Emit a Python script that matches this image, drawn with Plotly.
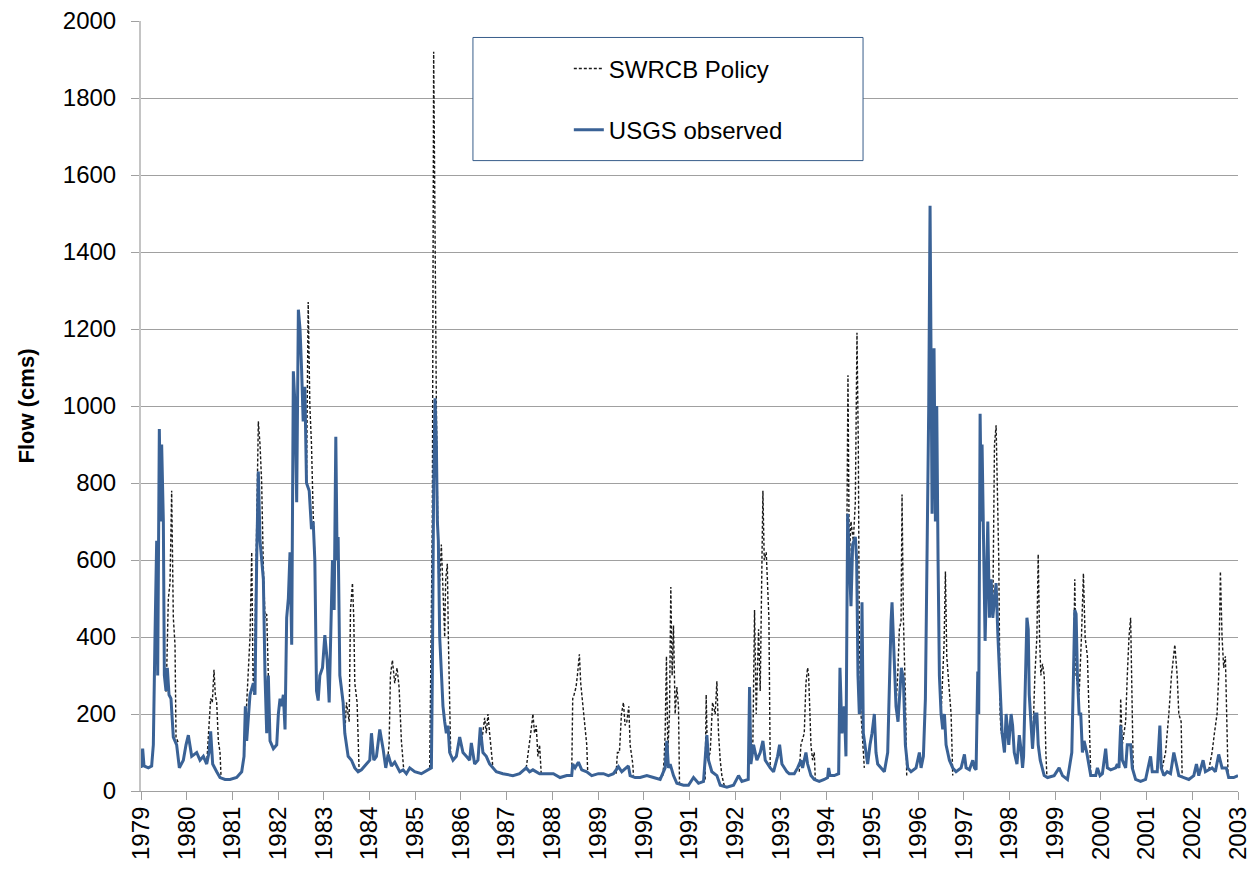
import plotly.graph_objects as go

# USGS observed flow (cms) at decimal-year positions
usgs_year = [
    1979.00, 1979.036, 1979.066, 1979.16, 1979.233, 1979.27, 1979.306, 1979.343, 1979.365, 1979.401,
    1979.43, 1979.452, 1979.489, 1979.511, 1979.547, 1979.576, 1979.613, 1979.656, 1979.707, 1979.78,
    1979.839, 1979.926, 1979.985, 1980.036, 1980.109, 1980.218, 1980.291, 1980.364, 1980.437, 1980.488,
    1980.524, 1980.568, 1980.656, 1980.729, 1980.838, 1980.947, 1981.093, 1981.203, 1981.254, 1981.283,
    1981.312, 1981.385, 1981.458, 1981.494, 1981.531, 1981.567, 1981.604, 1981.64, 1981.677, 1981.713,
    1981.75, 1981.786, 1981.823, 1981.896, 1981.969, 1982.005, 1982.042, 1982.078, 1982.114, 1982.151,
    1982.187, 1982.224, 1982.26, 1982.297, 1982.333, 1982.37, 1982.406, 1982.443, 1982.479, 1982.512,
    1982.548, 1982.585, 1982.621, 1982.68, 1982.73, 1982.767, 1982.803, 1982.84, 1982.876, 1982.913,
    1982.971, 1983.022, 1983.073, 1983.117, 1983.146, 1983.189, 1983.226, 1983.262, 1983.291, 1983.313,
    1983.35, 1983.422, 1983.459, 1983.532, 1983.605, 1983.677, 1983.75, 1983.823, 1983.932, 1984.005,
    1984.042, 1984.093, 1984.151, 1984.224, 1984.296, 1984.355, 1984.406, 1984.479, 1984.551, 1984.661,
    1984.733, 1984.806, 1984.879, 1984.988, 1985.134, 1985.28, 1985.353, 1985.374, 1985.403, 1985.433,
    1985.462, 1985.484, 1985.505, 1985.535, 1985.571, 1985.607, 1985.644, 1985.68, 1985.717, 1985.753,
    1985.826, 1985.899, 1985.972, 1986.044, 1986.117, 1986.19, 1986.227, 1986.299, 1986.372, 1986.423,
    1986.481, 1986.554, 1986.627, 1986.7, 1986.773, 1986.918, 1987.137, 1987.283, 1987.428, 1987.501,
    1987.574, 1987.72, 1987.876, 1988.022, 1988.168, 1988.314, 1988.423, 1988.445, 1988.496, 1988.569,
    1988.642, 1988.752, 1988.861, 1989.007, 1989.117, 1989.226, 1989.336, 1989.445, 1989.518, 1989.664,
    1989.701, 1989.81, 1989.92, 1990.066, 1990.212, 1990.358, 1990.467, 1990.504, 1990.54, 1990.577,
    1990.65, 1990.723, 1990.869, 1990.978, 1991.088, 1991.197, 1991.307, 1991.38, 1991.416, 1991.489,
    1991.599, 1991.672, 1991.818, 1991.964, 1992.073, 1992.146, 1992.285, 1992.314, 1992.343, 1992.401,
    1992.474, 1992.547, 1992.606, 1992.657, 1992.766, 1992.839, 1992.927, 1992.971, 1993.022, 1993.131,
    1993.182, 1993.292, 1993.365, 1993.438, 1993.474, 1993.547, 1993.584, 1993.657, 1993.73, 1993.839,
    1993.949, 1994.022, 1994.044, 1994.073, 1994.168, 1994.263, 1994.292, 1994.336, 1994.387, 1994.423,
    1994.46, 1994.496, 1994.533, 1994.569, 1994.628, 1994.657, 1994.686, 1994.715, 1994.752, 1994.774,
    1994.803, 1994.861, 1994.898, 1994.949, 1994.993, 1995.044, 1995.08, 1995.117, 1995.19, 1995.263,
    1995.336, 1995.372, 1995.409, 1995.431, 1995.46, 1995.489, 1995.518, 1995.562, 1995.606, 1995.635,
    1995.679, 1995.723, 1995.774, 1995.847, 1995.956, 1996.029, 1996.066, 1996.117, 1996.161, 1996.197,
    1996.234, 1996.263, 1996.292, 1996.307, 1996.328, 1996.35, 1996.38, 1996.409, 1996.438, 1996.467,
    1996.504, 1996.54, 1996.577, 1996.613, 1996.686, 1996.759, 1996.832, 1996.942, 1997.015, 1997.051,
    1997.124, 1997.197, 1997.234, 1997.27, 1997.307, 1997.328, 1997.358, 1997.387, 1997.401, 1997.431,
    1997.467, 1997.489, 1997.526, 1997.562, 1997.599, 1997.635, 1997.672, 1997.708, 1997.745, 1997.781,
    1997.839, 1997.891, 1997.927, 1997.985, 1998.036, 1998.069, 1998.105, 1998.164, 1998.215, 1998.251,
    1998.287, 1998.309, 1998.338, 1998.382, 1998.411, 1998.433, 1998.469, 1998.505, 1998.527, 1998.556,
    1998.6, 1998.629, 1998.673, 1998.724, 1998.76, 1998.833, 1998.978, 1999.087, 1999.16, 1999.269,
    1999.327, 1999.364, 1999.4, 1999.429, 1999.458, 1999.487, 1999.524, 1999.56, 1999.596, 1999.633,
    1999.691, 1999.742, 1999.778, 1999.887, 1999.924, 1999.982, 2000.033, 2000.105, 2000.142, 2000.215,
    2000.324, 2000.36, 2000.396, 2000.433, 2000.469, 2000.542, 2000.578, 2000.651, 2000.687, 2000.76,
    2000.869, 2000.978, 2001.087, 2001.124, 2001.233, 2001.291, 2001.32, 2001.378, 2001.451, 2001.524,
    2001.596, 2001.633, 2001.705, 2001.815, 2001.924, 2002.033, 2002.091, 2002.142, 2002.236, 2002.287,
    2002.36, 2002.433, 2002.505, 2002.578, 2002.651, 2002.745, 2002.796, 2002.905, 2003.0,
]
usgs_flow = [
    60, 110, 65, 60, 65, 120, 400, 650, 300, 940,
    700, 900, 700, 300, 260, 320, 250, 240, 140, 120,
    60, 80, 120, 145, 90, 100, 80, 90, 70, 100,
    155, 70, 50, 35, 30, 30, 35, 50, 90, 220,
    130, 250, 280, 250, 600, 830, 650, 600, 550, 300,
    150, 300, 130, 110, 120, 200, 240, 220, 250, 160,
    450, 500, 620, 380, 1090, 1000, 750, 1250, 1200, 1100,
    960, 1050, 800, 780, 680, 700, 600, 260, 235, 300,
    320, 405, 340, 230, 390, 600, 470, 920, 600, 660,
    300, 230, 150, 90, 80, 60, 50, 55, 70, 80,
    150, 80, 90, 160, 110, 60, 95, 65, 75, 50,
    55, 45, 60, 50, 45, 55, 60, 300, 800, 1020,
    900, 700, 650, 400, 300, 220, 180, 150, 170, 100,
    80, 90, 140, 100, 90, 80, 125, 70, 80, 165,
    100, 90, 70, 60, 50, 45, 40, 45, 60, 50,
    55, 45, 45, 45, 35, 40, 40, 70, 60, 75,
    55, 50, 40, 45, 45, 40, 45, 63, 50, 65,
    40, 35, 35, 40, 35, 30, 60, 130, 60, 70,
    40, 20, 15, 15, 35, 20, 25, 145, 80, 50,
    40, 15, 10, 15, 40, 25, 30, 270, 70, 120,
    80, 100, 130, 80, 60, 50, 90, 120, 70, 50,
    45, 45, 60, 80, 60, 100, 70, 40, 30, 25,
    30, 35, 60, 40, 40, 45, 320, 150, 220, 90,
    720, 600, 480, 640, 660, 600, 300, 200, 230, 490,
    150, 100, 70, 120, 150, 200, 100, 70, 60, 50,
    100, 300, 440, 490, 400, 330, 220, 180, 250, 320,
    290, 120, 60, 50, 60, 100, 60, 90, 240, 600,
    1000, 1520, 900, 720, 1000, 1150, 700, 1000, 600, 300,
    200, 160, 200, 120, 80, 60, 50, 60, 95, 60,
    55, 80, 60, 55, 310, 200, 980, 700, 900, 600,
    390, 500, 700, 450, 550, 450, 500, 540, 410, 300,
    150, 100, 200, 120, 200, 170, 100, 70, 145, 110,
    60, 90, 250, 450, 420, 250, 180, 110, 150, 200,
    200, 120, 80, 60, 40, 35, 40, 60, 40, 30,
    80, 100, 300, 470, 460, 300, 200, 200, 100, 130,
    100, 60, 40, 40, 60, 40, 45, 110, 60, 55,
    60, 70, 60, 170, 80, 60, 120, 120, 60, 30,
    25, 30, 90, 50, 50, 170, 60, 40, 50, 45,
    100, 80, 40, 35, 30, 40, 70, 40, 80, 50,
    55, 60, 50, 95, 60, 60, 35, 35, 40,
]

# SWRCB Policy flow (cms): where it departs from the observed record (None = follows observed)
swrcb_year = [
    1979.547, 1979.562, 1979.598, 1979.635, 1979.671, 1979.707, 1979.744, 1979.766, 1979.817, None,
    1980.437, 1980.488, 1980.524, 1980.56, 1980.597, 1980.626, 1980.656, 1980.692, 1980.729, 1980.75, None,
    1981.254, 1981.327, 1981.385, 1981.422, 1981.45, 1981.472, 1981.531, 1981.567, 1981.604, 1981.64,
    1981.677, 1981.713, 1981.75, 1981.786, 1981.823, None,
    1982.62, 1982.658, 1982.694, 1982.73, 1982.767, 1982.803, None,
    1983.459, 1983.495, 1983.554, 1983.583, 1983.626, 1983.655, 1983.677, 1983.728, 1983.772, None,
    1984.406, 1984.428, 1984.457, 1984.5, 1984.551, 1984.602, 1984.646, 1984.697, 1984.748, None,
    1985.316, 1985.338, 1985.374, 1985.403, 1985.433, 1985.462, 1985.491, 1985.52, 1985.571, 1985.607,
    1985.644, 1985.666, 1985.702, 1985.724, 1985.753, 1985.775, None,
    1986.445, 1986.481, 1986.518, 1986.554, 1986.591, 1986.627, 1986.663, 1986.7, None,
    1987.428, 1987.501, 1987.537, 1987.574, 1987.61, 1987.647, 1987.683, 1987.72, 1987.756, None,
    1988.423, 1988.445, 1988.474, 1988.518, 1988.547, 1988.591, 1988.62, 1988.664, 1988.715, 1988.752, 1988.774, None,
    1989.394, 1989.423, 1989.467, 1989.511, 1989.555, 1989.591, 1989.628, 1989.672, 1989.701, 1989.759, 1989.774, None,
    1990.416, 1990.445, 1990.467, 1990.496, 1990.526, 1990.562, 1990.591, 1990.62, 1990.65, 1990.686,
    1990.723, 1990.759, 1990.781, None,
    1991.343, 1991.365, 1991.394, 1991.453, 1991.504, 1991.562, 1991.599, 1991.635, 1991.672, 1991.708, 1991.759, None,
    1992.365, 1992.387, 1992.423, 1992.46, 1992.511, 1992.547, 1992.606, 1992.635, 1992.679, 1992.715,
    1992.737, 1992.766, None,
    1993.401, 1993.438, 1993.511, 1993.547, 1993.584, 1993.606, 1993.635, 1993.657, 1993.693, 1993.73, 1993.752, None,
    1994.445, 1994.467, 1994.496, 1994.533, 1994.584, 1994.628, 1994.664, 1994.693, 1994.715, 1994.752, 1994.825, None,
    1995.518, 1995.555, 1995.591, 1995.628, 1995.65, 1995.679, 1995.723, 1995.752, None,
    1996.504, 1996.54, 1996.569, 1996.599, 1996.628, 1996.672, 1996.723, 1996.759, None,
    1997.635, 1997.672, 1997.708, 1997.745, 1997.766, 1997.796, 1997.818, None,
    1998.505, 1998.556, 1998.6, 1998.629, 1998.658, 1998.687, 1998.724, 1998.76, 1998.796, 1998.818, None,
    1999.4, 1999.429, 1999.458, 1999.524, 1999.575, 1999.618, 1999.655, 1999.705, 1999.742, 1999.778, None,
    2000.418, 2000.433, 2000.469, 2000.542, 2000.578, 2000.615, 2000.651, 2000.673, 2000.709, None,
    2001.342, 2001.415, 2001.487, 2001.545, 2001.618, 2001.669, 2001.705, 2001.756, 2001.778, None,
    2002.36, 2002.433, 2002.484, 2002.542, 2002.578, 2002.615, 2002.651, 2002.687, 2002.724, 2002.76, 2002.782,
]
swrcb_flow = [
    258, 310, 500, 540, 780, 450, 380, 140, 125, None,
    70, 180, 240, 230, 315, 250, 230, 130, 100, 40, None,
    90, 260, 400, 620, 300, 250, 780, 960, 900, 800,
    580, 450, 460, 320, 130, None,
    800, 1270, 1000, 900, 720, 600, None,
    150, 230, 180, 470, 540, 450, 280, 230, 50, None,
    95, 120, 300, 340, 280, 320, 270, 130, 55, None,
    60, 280, 700, 1920, 1300, 1000, 700, 500, 640, 500,
    400, 550, 590, 400, 200, 100, None,
    120, 160, 190, 150, 200, 150, 100, 60, None,
    60, 120, 160, 200, 150, 170, 90, 120, 45, None,
    40, 240, 250, 270, 300, 355, 280, 220, 150, 120, 45, None,
    45, 100, 100, 200, 230, 170, 180, 220, 120, 70, 40, None,
    40, 80, 150, 350, 100, 200, 530, 300, 430, 200,
    270, 220, 20, None,
    30, 250, 80, 100, 230, 200, 285, 150, 80, 40, 15, None,
    100, 130, 470, 200, 420, 260, 780, 600, 620, 500,
    450, 60, None,
    50, 120, 150, 280, 320, 300, 200, 120, 80, 100, 30, None,
    700, 1080, 600, 700, 650, 750, 1190, 900, 400, 200, 60, None,
    220, 300, 420, 440, 770, 450, 250, 40, None,
    200, 300, 380, 570, 350, 280, 200, 40, None,
    450, 900, 950, 700, 600, 200, 150, None,
    110, 300, 400, 615, 400, 300, 330, 300, 100, 40, None,
    300, 550, 300, 250, 400, 565, 400, 350, 200, 40, None,
    100, 240, 120, 180, 300, 400, 450, 300, 50, None,
    60, 100, 200, 300, 380, 300, 200, 180, 40, None,
    55, 100, 150, 200, 300, 570, 400, 320, 350, 200, 40,
]

year_ticks = list(range(1979, 2004))
flow_ticks = list(range(0, 2001, 200))

FONT = "Liberation Sans, Arial, sans-serif"
BLUE = "#3A6296"

fig = go.Figure()
fig.add_trace(go.Scatter(
    x=swrcb_year, y=swrcb_flow, mode="lines", name="SWRCB Policy",
    line=dict(color="#1a1a1a", width=1.4, dash="3px,2px"), connectgaps=False,
    legendgroup="a",
))
fig.add_trace(go.Scatter(
    x=usgs_year, y=usgs_flow, mode="lines", name="USGS observed",
    line=dict(color=BLUE, width=3), legendgroup="b",
))

# legend frame (white box with dark-blue border)
fig.add_shape(type="rect", xref="paper", yref="paper",
              x0=0.3026, x1=0.6582, y0=0.8187, y1=0.9786,
              line=dict(color="#385D8A", width=1), fillcolor="white", layer="above")

fig.update_layout(
    width=1253, height=869,
    margin=dict(l=141, r=15, t=21, b=78, autoexpand=False),
    paper_bgcolor="white", plot_bgcolor="white",
    font=dict(family=FONT, size=24, color="black"),
    showlegend=True,
    legend=dict(x=0.39, y=0.967, xanchor="left", yanchor="top",
                bgcolor="rgba(0,0,0,0)", borderwidth=0,
                traceorder="grouped", tracegroupgap=27,
                font=dict(family=FONT, size=24, color="black")),
    xaxis=dict(range=[1979, 2003], tickvals=year_ticks, ticktext=[str(y) for y in year_ticks],
               tickangle=-90, showgrid=False, zeroline=False, automargin=False,
               showline=True, linecolor="#A0A0A0", linewidth=1,
               ticks="outside", ticklen=8, tickcolor="#A0A0A0",
               ticklabelstandoff=-3, ticklabeloverflow="allow",
               tickfont=dict(family=FONT, size=24, color="black")),
    yaxis=dict(range=[0, 2000], tickvals=flow_ticks, showgrid=True, gridcolor="#A0A0A0", gridwidth=1,
               zeroline=False, showline=True, linecolor="#C4C4C4", linewidth=2, automargin=False,
               ticks="outside", ticklen=8, tickcolor="#A0A0A0",
               ticklabelstandoff=10, ticklabeloverflow="allow",
               tickfont=dict(family=FONT, size=24, color="black"),
               title=dict(text="<b>Flow (cms)</b>", standoff=22,
                          font=dict(family=FONT, size=22, color="black"))),
)

# the page is exactly the chart size: drop the browser's default body margin
fig.write_html("out.html", config={"displayModeBar": False},
               post_script="document.body.style.margin='0';")
